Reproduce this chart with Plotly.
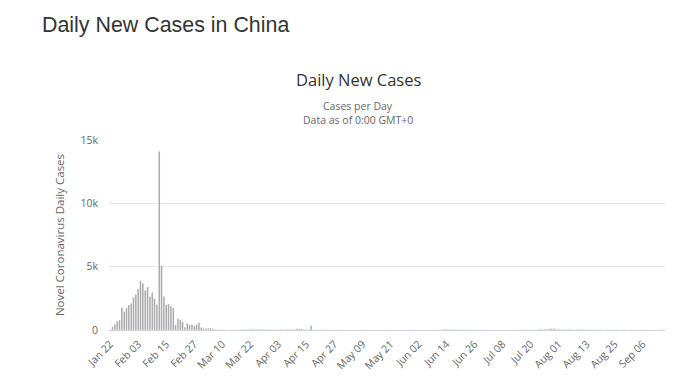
import pandas as pd
import plotly.graph_objects as go

# Daily new cases, Jan 22 .. Sep 15 (2020)
jan = [0, 259, 457, 688, 769, 1771, 1459, 1737, 1981, 2099]
feb = [2589, 2825, 3235, 3884, 3694, 3143, 3385, 2652, 2973, 2467, 2015, 14108, 5090, 2641,
       2008, 2048, 1888, 1749, 391, 889, 823, 648, 214, 508, 406, 433, 327, 427, 573]
mar = [202, 125, 119, 139, 143, 99, 44, 40, 19, 24, 15, 8, 11, 20, 16, 21, 13, 34, 39, 41,
       46, 39, 78, 47, 67, 55, 54, 45, 31, 31, 36]
apr = [35, 31, 19, 30, 39, 32, 62, 63, 42, 46, 99, 108, 89, 46, 26, 27, 352, 16, 12, 11,
       30, 10, 10, 12, 11, 3, 6, 22, 4, 12]
may = [2, 1, 3, 1, 1, 2, 4, 1, 14, 17, 1, 7, 3, 4, 5, 7, 5, 6, 6, 2, 11, 3, 3, 11, 7, 1,
       1, 1, 1, 4, 16]
jun = [2, 5, 5, 1, 5, 5, 4, 2, 3, 3, 7, 11, 57, 49, 40, 44, 28, 32, 26, 27, 26, 18, 12, 19,
       13, 21, 17, 12, 19, 3]
jul = [3, 5, 4, 8, 3, 5, 7, 7, 2, 5, 8, 4, 8, 4, 8, 11, 16, 22, 16, 11, 14, 22, 21, 34, 46,
       61, 68, 101, 105, 127, 64]
aug = [45, 49, 36, 27, 37, 37, 30, 23, 23, 49, 44, 25, 19, 22, 19, 22, 22, 22, 17, 7, 22,
       22, 17, 16, 15, 13, 9, 9, 12, 10, 9]
sep = [10, 8, 10, 11, 10, 9, 8, 10, 7, 7, 10, 7, 10, 10, 12]

values = jan + feb + mar + apr + may + jun + jul + aug + sep
dates = pd.date_range("2020-01-22", periods=len(values), freq="D")
categories = [d.strftime("%b %d") for d in dates]
tick_labels = categories[::12]

y_ticks = [0, 5000, 10000, 15000]
y_tick_text = ["0", "5k", "10k", "15k"]

# page body has an 8px margin; lay out in reference-page coordinates minus offset
OFF = 8
W, H = 676 - OFF, 385 - OFF
PL, PR, PT, PB = 109, 665, 140, 330   # plot area in reference page pixels
L = PL - OFF
T = PT - OFF
R = W - (PR - OFF)
B = H - (PB - OFF)
pw = PR - PL
ph = PB - PT


def px_x(x):
    return (x - PL) / pw


def px_y(y):
    return (PB - y) / ph


fig = go.Figure(go.Bar(
    x=categories, y=values,
    marker=dict(color="#a0a0a0", line=dict(color="#ffffff", width=0.3)),
    hovertemplate="%{x}: %{y}<extra></extra>",
))

fig.update_layout(
    width=W, height=H,
    margin=dict(l=L, r=R, t=T, b=B),
    paper_bgcolor="white", plot_bgcolor="white",
    bargap=0.3,
    showlegend=False,
    title=dict(text="Daily New Cases in China", x=(42 - OFF) / W, xanchor="left",
               xref="container", yref="container", y=1 - (25 - OFF) / H, yanchor="middle",
               font=dict(family="Liberation Sans, Arial", size=21.4, color="#333333")),
    annotations=[
        dict(text="Daily New Cases", xref="paper", yref="paper",
             x=px_x(358), y=px_y(80), xanchor="center", yanchor="middle", showarrow=False,
             font=dict(family="Open Sans", size=16.5, color="#333333")),
        dict(text="Cases per Day", xref="paper", yref="paper",
             x=px_x(358), y=px_y(106), xanchor="center", yanchor="middle", showarrow=False,
             font=dict(family="Open Sans", size=10.5, color="#666666")),
        dict(text="Data as of 0:00 GMT+0", xref="paper", yref="paper",
             x=px_x(358), y=px_y(120), xanchor="center", yanchor="middle", showarrow=False,
             font=dict(family="Open Sans", size=10.5, color="#666666")),
    ],
    xaxis=dict(
        type="category",
        tickmode="array", tickvals=tick_labels, ticktext=tick_labels,
        tickangle=-45, ticks="", showgrid=False,
        showline=True, linecolor="#ccd6eb", linewidth=1,
        ticklabelstandoff=3,
        tickfont=dict(family="Open Sans", size=10.5, color="#666666"),
        range=[-0.5, len(values) - 0.5],
    ),
    yaxis=dict(
        range=[0, 15000], tickmode="array", tickvals=y_ticks, ticktext=y_tick_text,
        showgrid=True, gridcolor="#e6e6e6", gridwidth=1, zeroline=False,
        tickfont=dict(family="Open Sans", size=10.5, color="#666666"),
        ticklabelstandoff=10,
        title=dict(text="Novel Coronavirus Daily Cases", standoff=13,
                   font=dict(family="Open Sans", size=11.5, color="#666666")),
    ),
)

fig.write_html("out.html")
